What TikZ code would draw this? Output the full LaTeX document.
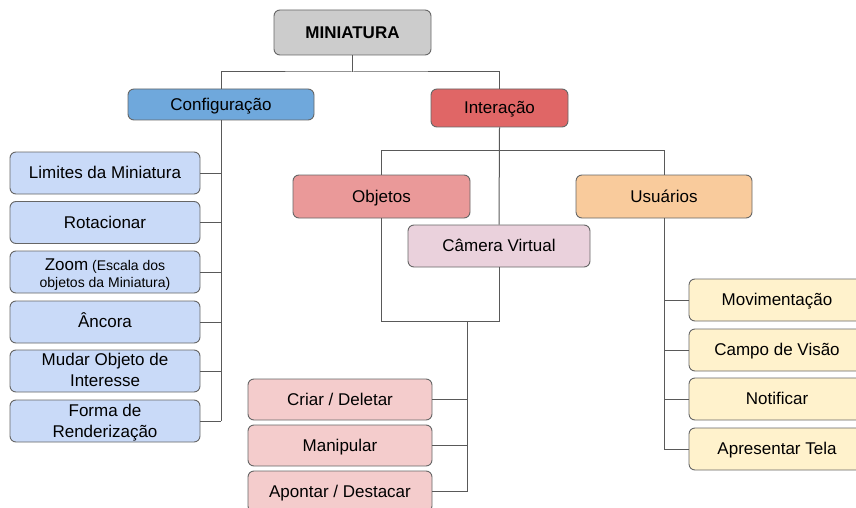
\documentclass[tikz,border=0pt]{standalone}
\usepackage{fontspec}
\setmainfont{Liberation Sans}
\definecolor{linegray}{HTML}{595959}
\definecolor{edgegray}{HTML}{666666}
\definecolor{rootfill}{HTML}{CCCCCC}
\definecolor{cfgfill}{HTML}{6FA8DC}
\definecolor{cfgkid}{HTML}{C9DAF8}
\definecolor{intfill}{HTML}{E06666}
\definecolor{objfill}{HTML}{EA9999}
\definecolor{objkid}{HTML}{F4CCCC}
\definecolor{camfill}{HTML}{EAD1DC}
\definecolor{usrfill}{HTML}{F9CB9C}
\definecolor{usrkid}{HTML}{FFF2CC}
% invisible line struts
\newcommand{\gstrut}{\rule[-3.6pt]{0pt}{19pt}}
\newcommand{\hstrut}[1]{\rule{0pt}{#1}}
\tikzset{
  box/.style={draw=edgegray, line width=0.9pt, rounded corners=6pt, inner sep=0pt,
    align=center, font=\fontsize{17}{21}\selectfont, text=black,
    execute at begin node=\gstrut},
  link/.style={draw=linegray, line width=1pt},
}
\begin{document}
\begin{tikzpicture}[x=1pt, y=-1pt]
\useasboundingbox (0,0) rectangle (856,508);
\clip (0,0) rectangle (856,508);

% root and first level
\node[box, fill=rootfill, minimum width=157pt, minimum height=45pt, font=\fontsize{17}{21}\selectfont\bfseries] (mini) at (352.5,32.5) {MINIATURA};
\node[box, fill=cfgfill, minimum width=186pt, minimum height=31pt] (config) at (221,104.5) {Configuração};
\node[box, fill=intfill, minimum width=137pt, minimum height=38pt] (inter) at (499.5,108) {Interação};

% configuration items
\node[box, fill=cfgkid, minimum width=190pt, minimum height=42pt] (lim) at (105,173) {Limites da Miniatura};
\node[box, fill=cfgkid, minimum width=190pt, minimum height=42pt] (rot) at (105,222.5) {Rotacionar};
\node[box, fill=cfgkid, minimum width=190pt, minimum height=42pt, font=\fontsize{14}{17}\selectfont] (zoom) at (105,272) {\hstrut{18.4pt}{\fontsize{17}{17}\selectfont Zoom} (Escala dos\\objetos da Miniatura)};
\node[box, fill=cfgkid, minimum width=190pt, minimum height=42pt] (anc) at (105,322) {Âncora};
\node[box, fill=cfgkid, minimum width=190pt, minimum height=42pt] (mud) at (105,371) {\hstrut{13pt}Mudar Objeto de\\Interesse};
\node[box, fill=cfgkid, minimum width=190pt, minimum height=42pt] (forma) at (105,421) {\hstrut{16.5pt}Forma de\\Renderização};

% interaction branches
\node[box, fill=objfill, minimum width=177pt, minimum height=43pt] (obj) at (381.5,196.5) {Objetos};
\node[box, fill=camfill, minimum width=182pt, minimum height=42pt] (cam) at (499,246) {Câmera Virtual};
\node[box, fill=usrfill, minimum width=176pt, minimum height=43pt] (usr) at (664,196.5) {Usuários};

% object actions
\node[box, fill=objkid, minimum width=184pt, minimum height=41pt] (criar) at (340,399.5) {Criar / Deletar};
\node[box, fill=objkid, minimum width=184pt, minimum height=41pt] (manip) at (340,445.5) {Manipular};
\node[box, fill=objkid, minimum width=184pt, minimum height=41pt] (apont) at (340,491.5) {Apontar / Destacar};

% user actions
\node[box, fill=usrkid, minimum width=176pt, minimum height=42pt] (mov) at (777,300) {Movimentação};
\node[box, fill=usrkid, minimum width=176pt, minimum height=42pt] (campo) at (777,350) {Campo de Visão};
\node[box, fill=usrkid, minimum width=176pt, minimum height=42pt] (notif) at (777,399) {Notificar};
\node[box, fill=usrkid, minimum width=176pt, minimum height=42pt] (apres) at (777,449) {Apresentar Tela};

% junction points
\coordinate (j1) at (352.5,72);
\coordinate (j2) at (499.5,150.5);
\coordinate (j3) at (467,321);

% root to first level
\draw[link] (mini.south) -- (j1);
\draw[link] (config.north) |- (j1) -| (inter.north);

% configuration tree
\draw[link] (config.south) -- (config.south |- forma.east);
\foreach \n in {lim,rot,zoom,anc,mud,forma}
  \draw[link] (\n.east) -- (\n.east -| config.south);

% interaction tree
\draw[link] (inter.south) -- (cam.north);
\draw[link] (obj.north) |- (j2) -| (usr.north);

% objects and virtual camera share the action list
\draw[link] (obj.south) |- (cam.south |- j3) -- (cam.south);
\draw[link] (j3) -- (j3 |- apont.east);
\foreach \n in {criar,manip,apont}
  \draw[link] (\n.east) -- (\n.east -| j3);

% user tree
\draw[link] (usr.south) -- (usr.south |- apres.west);
\foreach \n in {mov,campo,notif,apres}
  \draw[link] (\n.west) -- (\n.west -| usr.south);
\end{tikzpicture}
\end{document}
